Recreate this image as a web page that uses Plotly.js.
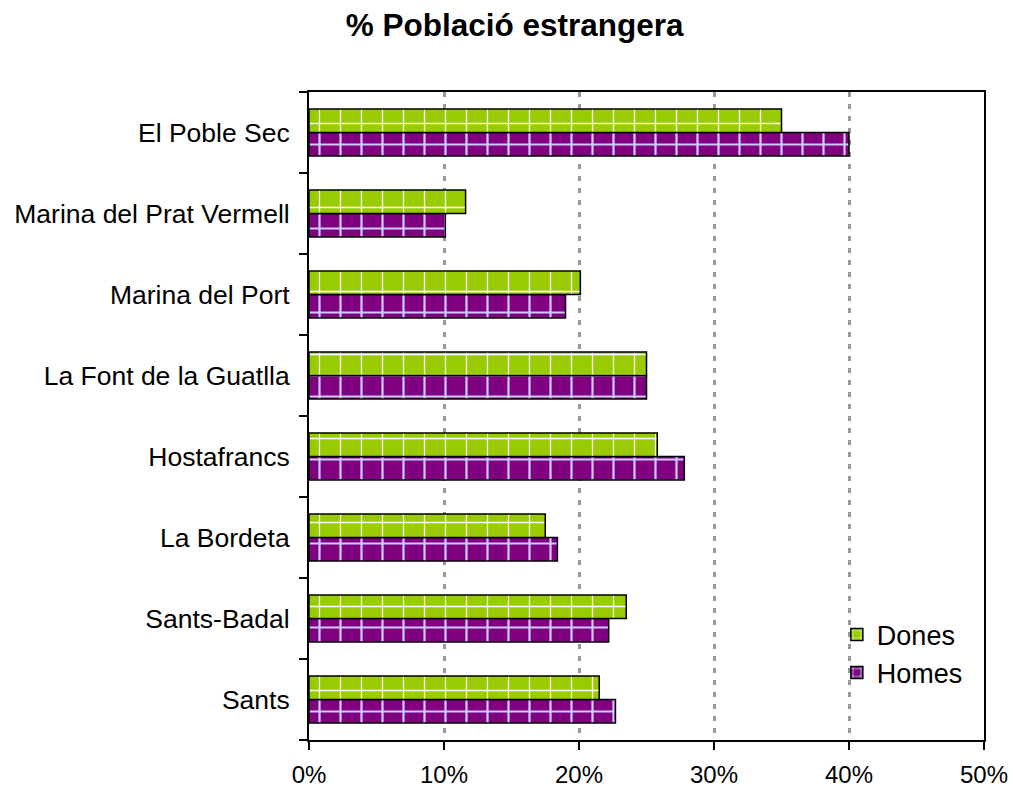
<!DOCTYPE html>
<html>
<head>
<meta charset="utf-8">
<script src="https://cdn.plot.ly/plotly-3.0.1.min.js"></script>
<style>html,body{margin:0;padding:0;background:#fff;}#chart{width:1013px;height:793px;}</style>
</head>
<body>
<div id="chart"></div>
<script>
const categories = ["Sants", "Sants-Badal", "La Bordeta", "Hostafrancs", "La Font de la Guatlla", "Marina del Port", "Marina del Prat Vermell", "El Poble Sec"];
const dones = [21.5, 23.5, 17.5, 25.8, 25.0, 20.1, 11.6, 35.0];
const homes = [22.7, 22.2, 18.4, 27.8, 25.0, 19.0, 10.1, 40.0];
const xTickVals = [0, 10, 20, 30, 40, 50];
const xTickText = ["0%", "10%", "20%", "30%", "40%", "50%"];

const traces = [
  {
    type: "bar", orientation: "h", name: "Homes",
    y: categories, x: homes,
    marker: {color: "#800080", line: {color: "#000", width: 1.5},
      pattern: {shape: "+", fgcolor: "#ccccff", bgcolor: "#800080", size: 21, solidity: 0.2}},
    hoverinfo: "x+y"
  },
  {
    type: "bar", orientation: "h", name: "Dones",
    y: categories, x: dones,
    marker: {color: "#99cc00", line: {color: "#000", width: 1.5},
      pattern: {shape: "+", fgcolor: "#ffffff", bgcolor: "#99cc00", size: 21, solidity: 0.12}},
    hoverinfo: "x+y"
  }
];

const layout = {
  width: 1013, height: 793,
  paper_bgcolor: "#fff", plot_bgcolor: "#fff",
  margin: {l: 309, r: 29, t: 92, b: 53},
  font: {family: "Liberation Sans, Arial, sans-serif", color: "#000"},
  title: {text: "<b>% Població estrangera</b>", font: {size: 31.5, family: "Liberation Sans, Arial, sans-serif"}, x: 0.508, xanchor: "center", y: 0.968, yanchor: "middle"},
  barmode: "group", bargap: 0.42, bargroupgap: 0,
  showlegend: true,
  legend: {x: 0.782, xanchor: "left", y: 0.2, yanchor: "top", traceorder: "reversed",
    font: {size: 27}, bgcolor: "rgba(0,0,0,0)", itemwidth: 30, tracegroupgap: 0},
  xaxis: {
    range: [0, 50], tickvals: xTickVals, ticktext: xTickText,
    showgrid: true, gridcolor: "#999", griddash: "5px,7px", gridwidth: 3,
    zeroline: false, showline: true, linecolor: "#000", linewidth: 2, mirror: true,
    ticks: "outside", ticklen: 8, tickwidth: 2, tickcolor: "#000",
    ticklabelstandoff: 4,
    tickfont: {size: 24}, fixedrange: true
  },
  yaxis: {
    type: "category", categoryorder: "array", categoryarray: categories,
    tickson: "boundaries", ticks: "outside", ticklen: 8, tickwidth: 2, tickcolor: "#000",
    ticklabelstandoff: 12,
    showgrid: false, showline: true, linecolor: "#000", linewidth: 2, mirror: true,
    tickfont: {size: 26.5}, fixedrange: true
  }
};

Plotly.newPlot("chart", traces, layout, {displayModeBar: false, staticPlot: true});
</script>
</body>
</html>
